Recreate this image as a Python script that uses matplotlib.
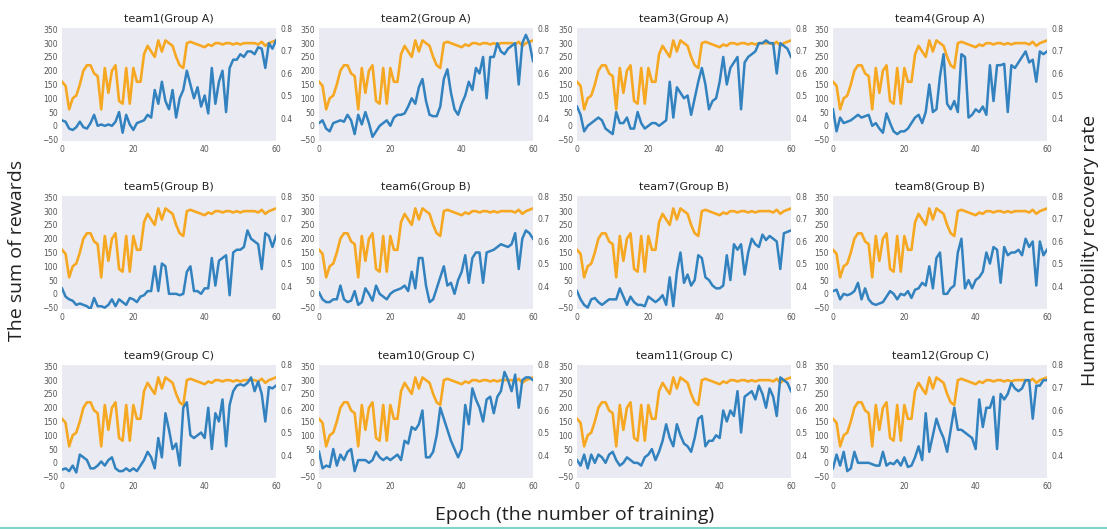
import matplotlib
matplotlib.use("Agg")
import matplotlib.pyplot as plt
from matplotlib.lines import Line2D

epochs = list(range(61))

# Human mobility recovery rate (same curve in every panel)
recovery_rate = [0.562, 0.544, 0.440, 0.489, 0.501, 0.550, 0.611, 0.635, 0.635, 0.599,
                 0.587, 0.440, 0.623, 0.513, 0.611, 0.635, 0.477, 0.465, 0.623, 0.465,
                 0.623, 0.562, 0.562, 0.684, 0.721, 0.696, 0.672, 0.745, 0.696, 0.745,
                 0.733, 0.721, 0.672, 0.635, 0.623, 0.733, 0.739, 0.733, 0.727, 0.721,
                 0.715, 0.727, 0.721, 0.733, 0.733, 0.727, 0.733, 0.733, 0.727, 0.733,
                 0.727, 0.733, 0.733, 0.733, 0.733, 0.727, 0.739, 0.721, 0.733, 0.739,
                 0.745]

team1 = [20, 15, -10, -15, -5, 15, -5, -10, 10, 40, 0, 5, 0, 5, 0, 15, 50, -25, 40, 5,
         -15, 10, 15, 20, 40, 30, 130, 80, 160, 90, 60, 130, 30, 100, 130, 200, 150, 100, 140, 70,
         110, 45, 210, 80, 160, 200, 50, 210, 240, 240, 260, 250, 270, 270, 260, 285, 280, 210, 300, 280,
         310]
team2 = [10, 20, -10, -20, 10, 15, 20, 15, 40, 20, -30, 40, 5, 50, 10, -40, -20, 0, 10, 20,
         0, 30, 40, 40, 45, 70, 100, 80, 140, 170, 90, 40, 35, 35, 70, 170, 205, 120, 60, 40,
         80, 110, 160, 130, 210, 190, 250, 100, 250, 250, 300, 270, 260, 280, 290, 300, 150, 300, 330, 300,
         235]
team3 = [70, 40, -20, 0, 10, 20, 30, 20, -10, -20, -30, 50, 10, 10, 30, -10, -10, 50, 10, -10,
         0, 10, 10, 0, 10, 20, 160, 30, 140, 120, 100, 110, 40, 100, 160, 210, 150, 60, 90, 100,
         160, 250, 150, 210, 230, 250, 60, 230, 250, 260, 270, 300, 300, 310, 300, 300, 190, 300, 290, 280,
         250]
team4 = [60, -20, 30, 10, 15, 20, 30, 40, 30, 35, 40, 0, 10, -10, -25, 45, 10, -20, -30, -20,
         -20, -10, 10, 30, 40, 10, 50, 150, 50, 60, 180, 260, 80, 60, 90, 50, 260, 250, 30, 40,
         60, 50, 70, 40, 220, 90, 220, 220, 225, 50, 220, 210, 230, 250, 270, 230, 240, 160, 270, 260,
         270]
team5 = [20, -10, -20, -25, -40, -35, -40, -45, -55, -15, -45, -45, -50, -40, -20, -45, -20, -30, -40, -15,
         -20, -30, -10, -5, 10, 10, 100, 10, 110, 100, 0, 0, 0, -5, 0, 80, 100, 10, 10, 0,
         20, 20, 130, 30, 120, 130, 140, -5, 150, 160, 160, 170, 230, 200, 190, 180, 90, 220, 210, 170,
         210]
team6 = [5, -20, -30, -30, -20, -20, 30, -20, -30, -25, 10, -40, -30, 20, 0, -25, 30, 0, -10, -20,
         0, 10, 15, 20, 30, 10, 80, 20, 130, 130, 30, -30, -20, 20, 60, 100, 30, 40, 0, 50,
         80, 140, 40, 130, 150, 150, 40, 150, 155, 160, 170, 180, 175, 170, 180, 220, 90, 200, 230, 220,
         200]
team7 = [10, -20, -40, -50, -20, -15, -30, -40, -30, -20, -20, -20, 20, -10, -40, -10, -30, -40, -40, -45,
         -10, -20, -30, -20, -5, -40, 60, -45, 80, 150, 40, 70, 30, 50, 140, 130, 60, 50, 30, 20,
         20, 30, 140, 50, 180, 160, 180, 70, 150, 200, 180, 170, 215, 195, 210, 200, 190, 90, 220, 225,
         230]
team8 = [10, 15, -20, 0, -5, 0, 10, 40, -20, 20, -20, -35, -40, -35, -30, -10, 10, 0, -20, 0,
         -5, 10, -15, 15, 20, 40, 30, 100, 20, 130, 150, 0, 0, 20, 30, 150, 200, 20, 50, 20,
         50, 60, 80, 150, 110, 170, 160, 40, 170, 140, 150, 150, 160, 140, 200, 170, 190, 30, 190, 140,
         160]
team9 = [-25, -20, -30, -10, -35, 30, 20, 10, -20, -20, -10, 5, -10, 10, 20, -20, -30, -30, -20, -30,
         -20, -30, -10, 10, 40, 20, -20, 90, 20, 180, 120, 50, 70, -10, 200, 220, 100, 90, 100, 110,
         90, 200, 50, 180, 150, 230, 60, 210, 260, 280, 285, 280, 290, 310, 260, 295, 250, 150, 275, 270,
         280]
team10 = [40, -20, -10, -15, 50, -10, 30, 10, 40, 50, -30, 10, 10, 10, 0, 10, 40, 20, 10, 20,
          10, 20, 30, 10, 80, 70, 130, 120, 140, 190, 20, 20, 40, 100, 200, 160, 120, 80, 50, 20,
          50, 210, 140, 270, 230, 200, 150, 230, 240, 180, 240, 260, 330, 300, 260, 320, 200, 300, 310, 310,
          300]
team11 = [10, -10, 30, -20, 30, 0, 30, 20, 0, 30, 40, 10, -10, 0, 20, 10, 0, 0, -10, 20,
          30, 50, 10, 40, 80, 140, 90, 60, 140, 100, 70, 60, 40, 90, 160, 170, 60, 80, 80, 100,
          90, 190, 150, 190, 170, 260, 110, 240, 250, 260, 230, 280, 250, 200, 270, 240, 170, 310, 300, 290,
          260]
team12 = [-20, 30, -10, 40, -30, -20, 40, 0, 0, 0, 0, -5, -10, -10, 40, -10, 0, -5, 10, -10,
          20, -15, -10, 20, 60, 10, 180, 40, 100, 160, 120, 90, 40, 120, 200, 120, 120, 110, 100, 90,
          50, 230, 130, 200, 200, 240, 50, 250, 230, 250, 290, 270, 260, 270, 300, 300, 160, 280, 280, 300,
          300]

rewards = [team1, team2, team3, team4, team5, team6, team7, team8, team9, team10, team11, team12]
titles = ["team%d(Group %s)" % (i + 1, "ABC"[i // 4]) for i in range(12)]

blue = "#3282bf"
orange = "#f7a823"
bg = "#eaeaf2"
tick_color = "#555555"

fig = plt.figure(figsize=(11.07, 5.29), dpi=100)
W, H = 1107.0, 529.0
col_left = [62, 319, 577, 833]
row_top = [28, 196, 365]
ax_w, ax_h = 214, 113

for i in range(12):
    r, c = divmod(i, 4)
    ax = fig.add_axes([col_left[c] / W, 1 - (row_top[r] + ax_h) / H, ax_w / W, ax_h / H])
    ax2 = ax.twinx()
    for s in list(ax.spines.values()) + list(ax2.spines.values()):
        s.set_visible(False)

    # orange on the twin axis (drawn first, with the background), blue on top
    ax2.set_facecolor(bg)
    ax2.patch.set_visible(True)
    ax.patch.set_visible(False)
    ax.set_zorder(ax2.get_zorder() + 1)

    ax2.plot(epochs, recovery_rate, color=orange, lw=1.9)
    ax2.set_ylim(0.3, 0.8)
    ax2.set_yticks([0.4, 0.5, 0.6, 0.7, 0.8])
    ax2.tick_params(length=0, labelsize=5.5, colors=tick_color, pad=3)

    ax.plot(epochs, rewards[i], color=blue, lw=1.8)
    ax.set_xlim(0, 60)
    ax.set_ylim(-55, 355)
    ax.set_xticks([0, 20, 40, 60])
    ax.set_yticks(range(-50, 351, 50))
    ax.tick_params(length=0, labelsize=5.5, colors=tick_color, pad=3)
    ax.set_title(titles[i], fontsize=8, color="#222222", pad=4)

fig.text(17 / W, 1 - 250 / H, "The sum of rewards", rotation=90, ha="center", va="center",
         fontsize=14, family="Open Sans", color="#222222")
fig.text(1090 / W, 1 - 250 / H, "Human mobility recovery rate", rotation=90, ha="center", va="center",
         fontsize=14, family="Open Sans", color="#222222")
fig.text(575 / W, 1 - 515 / H, "Epoch (the number of training)", ha="center", va="center",
         fontsize=14, family="Open Sans", color="#222222")

fig.add_artist(Line2D([0, 1], [1.5 / H, 1.5 / H], color="#7fd3c8", lw=1.5))

fig.savefig("out.png", dpi=100, facecolor="white")
